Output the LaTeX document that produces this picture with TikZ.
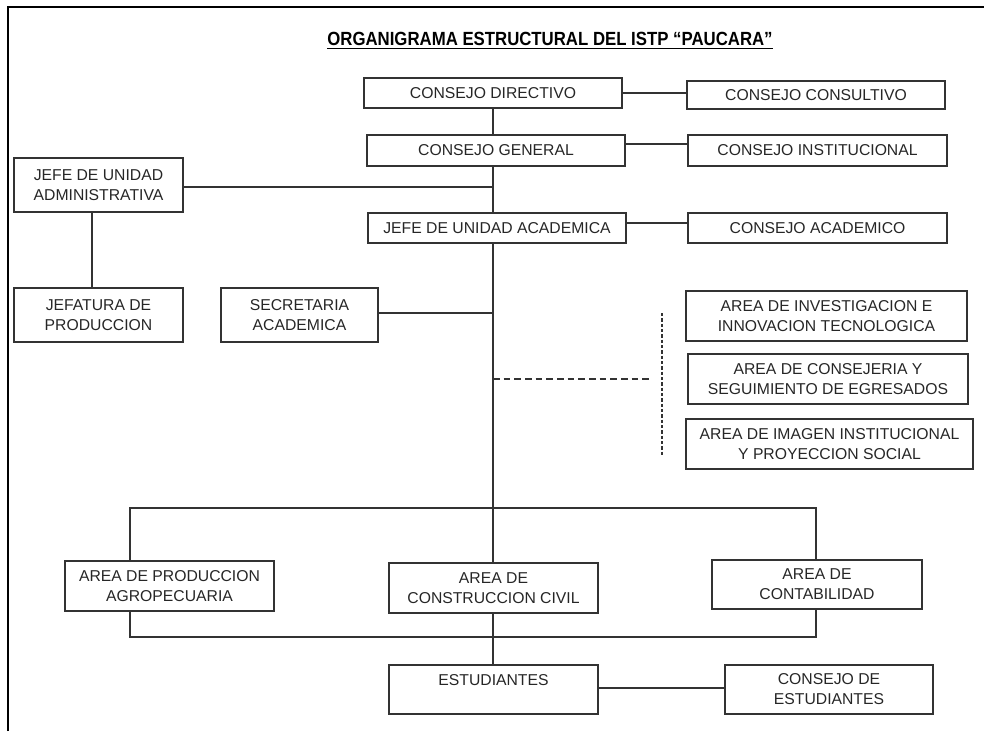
\documentclass[tikz,border=0pt]{standalone}
\usepackage{fontspec}
\setmainfont{Liberation Sans}
\newfontfamily\titlefont[FakeStretch=0.88]{Liberation Sans}
\usepackage{tikz}
\usetikzlibrary{calc}
\usetikzlibrary{positioning}

\begin{document}
\begin{tikzpicture}[x=0.75pt,y=-0.75pt,
      font=\fontsize{11.8}{15}\selectfont,
      unit style/.style={rectangle,draw=black!80,line width=0.9pt,inner
        sep=0pt,align=center,text=black!85},
      bw/.style={minimum width=#1*0.75pt},
      bh/.style={minimum height=#1*0.75pt},
      link style/.style={draw=black!80,line width=1pt},
      dash style/.style={link style,dash pattern=on 5pt off 3pt},
      dot style/.style={link style,dash pattern=on 2.5pt off 1.5pt}
      ]
      \useasboundingbox (0,0) rectangle (984,731);
      \draw[line width=1.5pt] (8,731) -- (8,7) -- (984,7);

      \node[font={\titlefont\bfseries\fontsize{14.3}{16}\selectfont},
        anchor=base] (title) at (550,46)
        {\underline{ORGANIGRAMA ESTRUCTURAL DEL ISTP “PAUCARA”}};

      \node[unit style, bw=258, bh=30] (cdir) at (493,93) {CONSEJO DIRECTIVO};
      \node[unit style, bw=258, bh=28] (ccons) at (816,95) {CONSEJO CONSULTIVO};
      \node[unit style, bw=258, bh=31] (cgen) at (496,150.5) {CONSEJO GENERAL};
      \node[unit style, bw=259, bh=31] (cinst) at (817.5,150.5) {CONSEJO INSTITUCIONAL};
      \node[unit style, bw=169, bh=54] (jadm) at (98.5,185) {JEFE DE UNIDAD\\ADMINISTRATIVA};
      \node[unit style, bw=258, bh=30] (jacad) at (497,228) {JEFE DE UNIDAD ACADEMICA};
      \node[unit style, bw=259, bh=30] (cacad) at (817.5,228) {CONSEJO ACADEMICO};

      \node[unit style, bw=169, bh=54] (jprod) at (98.5,315) {JEFATURA DE\\PRODUCCION};
      \node[unit style, bw=157, bh=54] (secr) at (299.5,315) {SECRETARIA\\ACADEMICA};
      \node[unit style, bw=281, bh=50] (ainv) at (826.5,316) {AREA DE INVESTIGACION E\\INNOVACION TECNOLOGICA};
      \node[unit style, bw=280, bh=50] (acons) at (828,379) {AREA DE CONSEJERIA Y\\SEGUIMIENTO DE EGRESADOS};
      \node[unit style, bw=287, bh=50] (aimg) at (829.5,444) {AREA DE IMAGEN INSTITUCIONAL\\Y PROYECCION SOCIAL};

      \node[unit style, bw=209, bh=50] (aagro) at (169.5,586) {AREA DE PRODUCCION\\AGROPECUARIA};
      \node[unit style, bw=209, bh=50] (acivil) at (493.5,588) {AREA DE\\CONSTRUCCION CIVIL};
      \node[unit style, bw=210, bh=49] (acont) at (817,584.5) {AREA DE\\CONTABILIDAD};
      \node[unit style, bw=209, bh=49] (estud) at (493.5,689.5) {ESTUDIANTES\\\mbox{}};
      \node[unit style, bw=208, bh=49] (cestud) at (829,689.5) {CONSEJO DE\\ESTUDIANTES};

      % main line
      \draw[link style] (cdir.south) -- (cdir.south |- cgen.north);
      \draw[link style] (cdir.south |- cgen.south) -- (cdir.south |- jacad.north);
      \draw[link style] (cdir.south |- jacad.south) -- (cdir.south |- acivil.north);
      \draw[link style] (cdir.south |- acivil.south) -- (cdir.south |- estud.north);

      \draw[link style] (cdir.east) -- (cdir.east -| ccons.west);
      \draw[link style] ([yshift=4.9pt]cgen.east) -- ([yshift=4.9pt]cgen.east -| cinst.west);
      \draw[link style] ([yshift=3.75pt]jacad.east) -- ([yshift=3.75pt]jacad.east -| cacad.west);
      \draw[link style] ([yshift=-1.5pt]jadm.east) -- ([yshift=-1.5pt]jadm.east -| cdir.south);
      \draw[link style] ([xshift=-4.9pt]jadm.south) -- ([xshift=-4.9pt]jadm.south |- jprod.north);
      \draw[link style] ([yshift=1.5pt]secr.east) -- ([yshift=1.5pt]secr.east -| cdir.south);

      % staff areas
      \coordinate (dend) at (649,379);
      \coordinate (dtop) at (662,313);
      \coordinate (dbot) at (662,457);
      \draw[dash style] (cdir.south |- dend) -- (dend);
      \draw[dot style] (dtop) -- (dbot);

      % careers
      \coordinate (btl) at (130,508);
      \coordinate (btr) at (816,508);
      \coordinate (bbl) at (130,637);
      \coordinate (bbr) at (816,637);
      \draw[link style] (btl |- aagro.north) -- (btl) -- (btr) -- (btr |- acont.north);
      \draw[link style] (bbl |- aagro.south) -- (bbl) -- (bbr) -- (bbr |- acont.south);

      \draw[link style] ([yshift=1.125pt]estud.east) -- ([yshift=1.125pt]estud.east -| cestud.west);

    \end{tikzpicture}
\end{document}
